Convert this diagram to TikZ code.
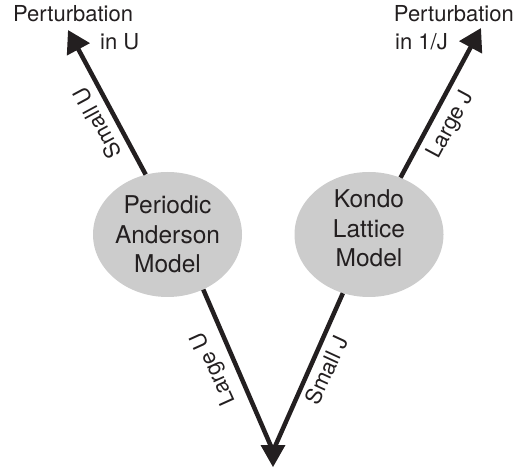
\documentclass[tikz,border=0pt]{standalone}
\usepackage{fontspec}
\setmainfont{TeX Gyre Heros}
\usetikzlibrary{arrows.meta,shapes.geometric}
\definecolor{bubble}{RGB}{204,204,204}
\definecolor{ink}{RGB}{35,31,32}
\begin{document}
\begin{tikzpicture}[x=1pt,y=1pt,
  model/.style={ellipse, fill=bubble, minimum width=149pt, minimum height=125pt, inner sep=0pt},
  modeltext/.style={align=center, font=\fontsize{24.5}{29.5}\selectfont, text=ink, inner sep=0pt},
  lbl/.style={font=\fontsize{22}{26}\selectfont, text=ink, inner sep=0pt},
  limb/.style={line width=4.5pt, draw=ink},
  flow/.style={limb, -{Triangle[length=22pt,width=25pt]}},
]
\useasboundingbox (0,0) rectangle (516,471);

% the two models
\node[model] (pam) at (167.5,236.5) {};
\node[modeltext] (pamtext) at (pam.center) {Periodic\\Anderson\\Model};
\node[model] (klm) at (369,236.5) {};
\node[modeltext] (klmtext) at ([yshift=6pt]klm.center) {Kondo\\Lattice\\Model};

% arrow end points
\coordinate (tipU) at (68,441);
\coordinate (tipJ) at (481,443);
\coordinate (apex) at (273,4);
\coordinate (base) at (273,26);
\coordinate (join) at (273,20);

% upward arrows: perturbative limits
\draw[flow] (pam.110) -- (tipU);
\draw[flow] (klm.61) -- (tipJ);

% downward arrows meeting in one shared head
\draw[limb] (pam.-57) -- (join);
\draw[limb] (klm.-114) -- (join);
\fill[ink] (apex) -- ([xshift=-12.5pt]base) -- ([xshift=12.5pt]base) -- cycle;

% end labels
\node[lbl, anchor=base west] (pertU) at (13,449) {Perturbation};
\node[lbl, anchor=base west] (inU) at (100,421) {in U};
\node[lbl, anchor=base east] (pertJ) at (514,449) {Perturbation};
\node[lbl, anchor=base west] (inJ) at (395,421) {in 1/J};

% limit labels along the arrows
\node[lbl, rotate=118.3] (smallU) at (97,348) {Small U};
\node[lbl, rotate=61.8] (largeJ) at (451,346) {Large J};
\node[lbl, rotate=114.3] (largeU) at (214,102.5) {Large U};
\node[lbl, rotate=65.3] (smallJ) at (326.5,101) {Small J};
\end{tikzpicture}
\end{document}
